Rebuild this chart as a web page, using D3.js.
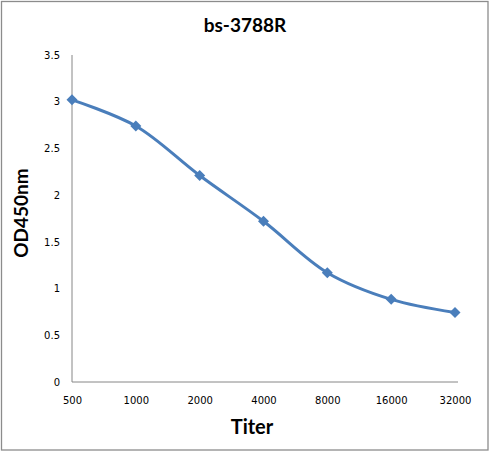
<!DOCTYPE html>
<html><head><meta charset="utf-8">
<script src="https://cdn.jsdelivr.net/npm/d3@7"></script>
<style>body{margin:0;background:#fff}svg{display:block}</style>
</head><body>
<svg id="c" width="490" height="452"></svg>
<script>
const titers = ["500","1000","2000","4000","8000","16000","32000"];
const od450 = [3.02, 2.74, 2.21, 1.72, 1.17, 0.885, 0.745];
const yTicks = [0, 0.5, 1, 1.5, 2, 2.5, 3, 3.5];
const titleText = "bs-3788R";
const xLabel = "Titer";
const yLabel = "OD450nm";

const svg = d3.select("#c");
const blue = "#4a7ebb", axisCol = "#868686";

svg.append("rect").attr("x",1.5).attr("y",1.5).attr("width",486.5).attr("height",448.5)
  .attr("fill","#fff").attr("stroke","#8c8c8c").attr("stroke-width",1.3);

const x = d3.scalePoint().domain(titers).range([72, 455]);
const y = d3.scaleLinear().domain([0, 3.5]).range([382, 55]);

// axes lines
svg.append("line").attr("x1",72).attr("x2",72).attr("y1",y(3.5)).attr("y2",y(0))
  .attr("stroke",axisCol).attr("stroke-width",1);
svg.append("line").attr("x1",72).attr("x2",458).attr("y1",y(0)).attr("y2",y(0))
  .attr("stroke",axisCol).attr("stroke-width",1);

const yAxis = d3.axisLeft(y).tickValues(yTicks).tickSize(0).tickPadding(12).tickFormat(d3.format("~g"));
const gy = svg.append("g").attr("transform","translate(72,0)").call(yAxis);
gy.select(".domain").remove();
gy.selectAll("text").attr("font-family","DejaVu Sans").attr("font-size",10).attr("fill","#000");

const xAxis = d3.axisBottom(x).tickSize(0).tickPadding(15);
const gx = svg.append("g").attr("transform",`translate(0,${y(0)})`).call(xAxis);
gx.select(".domain").remove();
gx.selectAll("text").attr("font-family","DejaVu Sans").attr("font-size",10).attr("fill","#000");

const pts = titers.map((t,i)=>[x(t), y(od450[i])]);
svg.append("path").attr("d", d3.line().curve(d3.curveCatmullRom.alpha(0.5))(pts))
  .attr("fill","none").attr("stroke",blue).attr("stroke-width",3);

svg.selectAll(".m").data(pts).enter().append("path")
  .attr("transform",d=>`translate(${d[0]},${d[1]})`)
  .attr("d","M0,-5.5L5.5,0L0,5.5L-5.5,0Z").attr("fill",blue);

svg.append("text").attr("x",245).attr("y",32).attr("text-anchor","middle")
  .attr("font-family","Lato").attr("font-weight","bold").attr("font-size",19).text(titleText);
svg.append("text").attr("x",252).attr("y",434).attr("text-anchor","middle")
  .attr("font-family","Lato").attr("font-weight","bold").attr("font-size",20).text(xLabel);
svg.append("text").attr("transform","translate(28,213) rotate(-90)").attr("text-anchor","middle")
  .attr("font-family","Lato").attr("font-weight","bold").attr("font-size",19).text(yLabel);
</script>
</body></html>
